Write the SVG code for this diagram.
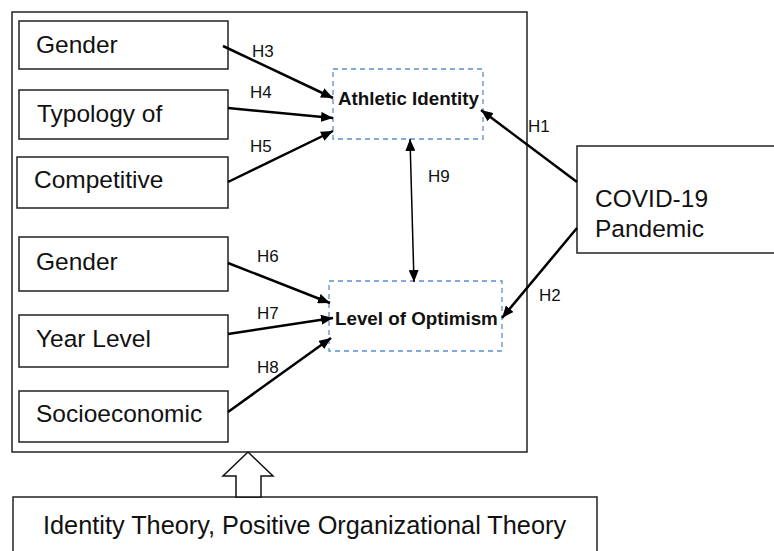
<svg xmlns="http://www.w3.org/2000/svg" width="774" height="551" viewBox="0 0 774 551">
<style>
.box{fill:#fff;stroke:#222;stroke-width:1.5}
.dash{fill:none;stroke:#5b8fd0;stroke-width:1.3;stroke-dasharray:5 4}
.t{font-family:"Liberation Sans",Arial,sans-serif;font-size:24.5px;fill:#111}
.tb{font-family:"Liberation Sans",Arial,sans-serif;font-size:18.8px;font-weight:bold;fill:#111}
.h{font-family:"Liberation Sans",Arial,sans-serif;font-size:17px;fill:#111}
.c{stroke:#000;stroke-width:2.5;fill:none;marker-end:url(#ah)}
.c2{stroke:#000;stroke-width:1.5;fill:none;marker-end:url(#ah2);marker-start:url(#ah2)}
</style>
<defs>
<marker id="ah" markerUnits="userSpaceOnUse" markerWidth="12" markerHeight="10" refX="12" refY="5" orient="auto"><path d="M0,0 L12,5 L0,10 z" fill="#000"/></marker>
<marker id="ah2" markerUnits="userSpaceOnUse" markerWidth="12" markerHeight="10" refX="12" refY="5" orient="auto-start-reverse"><path d="M0,0 L12,5 L0,10 z" fill="#000"/></marker>
</defs>
<rect width="774" height="551" fill="#fff"/>
<g id="frame"><rect class="box" x="12" y="12" width="515" height="440" fill="none"/></g>
<g id="n-gender1"><rect class="box" x="19" y="21" width="209" height="48"/><text class="t" x="36" y="53">Gender</text></g>
<g id="n-typology"><rect class="box" x="19" y="90" width="209" height="49"/><text class="t" x="37" y="122">Typology of</text></g>
<g id="n-competitive"><rect class="box" x="17" y="157" width="211" height="51"/><text class="t" x="34" y="188">Competitive</text></g>
<g id="n-gender2"><rect class="box" x="19" y="237" width="209" height="54"/><text class="t" x="36" y="270">Gender</text></g>
<g id="n-year"><rect class="box" x="19" y="315" width="209" height="52"/><text class="t" x="36" y="347">Year Level</text></g>
<g id="n-socio"><rect class="box" x="19" y="391" width="209" height="51"/><text class="t" x="36" y="422">Socioeconomic</text></g>
<g id="n-athletic"><rect class="dash" x="333" y="69" width="150" height="70"/><text class="tb" x="338" y="105">Athletic Identity</text></g>
<g id="n-optimism"><rect class="dash" x="329" y="281" width="173" height="70"/><text class="tb" x="335" y="325">Level of Optimism</text></g>
<g id="n-covid"><rect class="box" x="577" y="146" width="210" height="107"/><text class="t" x="595" y="207">COVID-19</text><text class="t" x="595" y="237">Pandemic</text></g>
<g id="n-theory"><rect class="box" x="13" y="497" width="584" height="70"/><text class="t" x="43" y="534" style="font-size:25.3px">Identity Theory, Positive Organizational Theory</text></g>
<g id="n-bigarrow"><polygon points="248,452 273,476 261,476 261,497 236,497 236,476 223,476" fill="#fff" stroke="#111" stroke-width="1.5"/></g>
<g id="connectors">
<line class="c" x1="223" y1="46" x2="333" y2="98"/>
<line class="c" x1="228" y1="108" x2="333" y2="118"/>
<line class="c" x1="228" y1="182" x2="333" y2="131"/>
<line class="c" x1="228" y1="263" x2="330" y2="303"/>
<line class="c" x1="228" y1="334" x2="333" y2="318"/>
<line class="c" x1="228" y1="412" x2="331" y2="338"/>
<line class="c" x1="577" y1="182" x2="481" y2="110"/>
<line class="c" x1="577" y1="228" x2="502" y2="318"/>
<line class="c2" x1="410" y1="139" x2="414" y2="282"/>
</g>
<g id="labels">
<text class="h" x="252" y="57">H3</text>
<text class="h" x="250" y="98">H4</text>
<text class="h" x="250" y="152">H5</text>
<text class="h" x="257" y="262">H6</text>
<text class="h" x="257" y="319">H7</text>
<text class="h" x="257" y="373">H8</text>
<text class="h" x="428" y="182">H9</text>
<text class="h" x="528" y="132">H1</text>
<text class="h" x="539" y="301">H2</text>
</g>
</svg>
